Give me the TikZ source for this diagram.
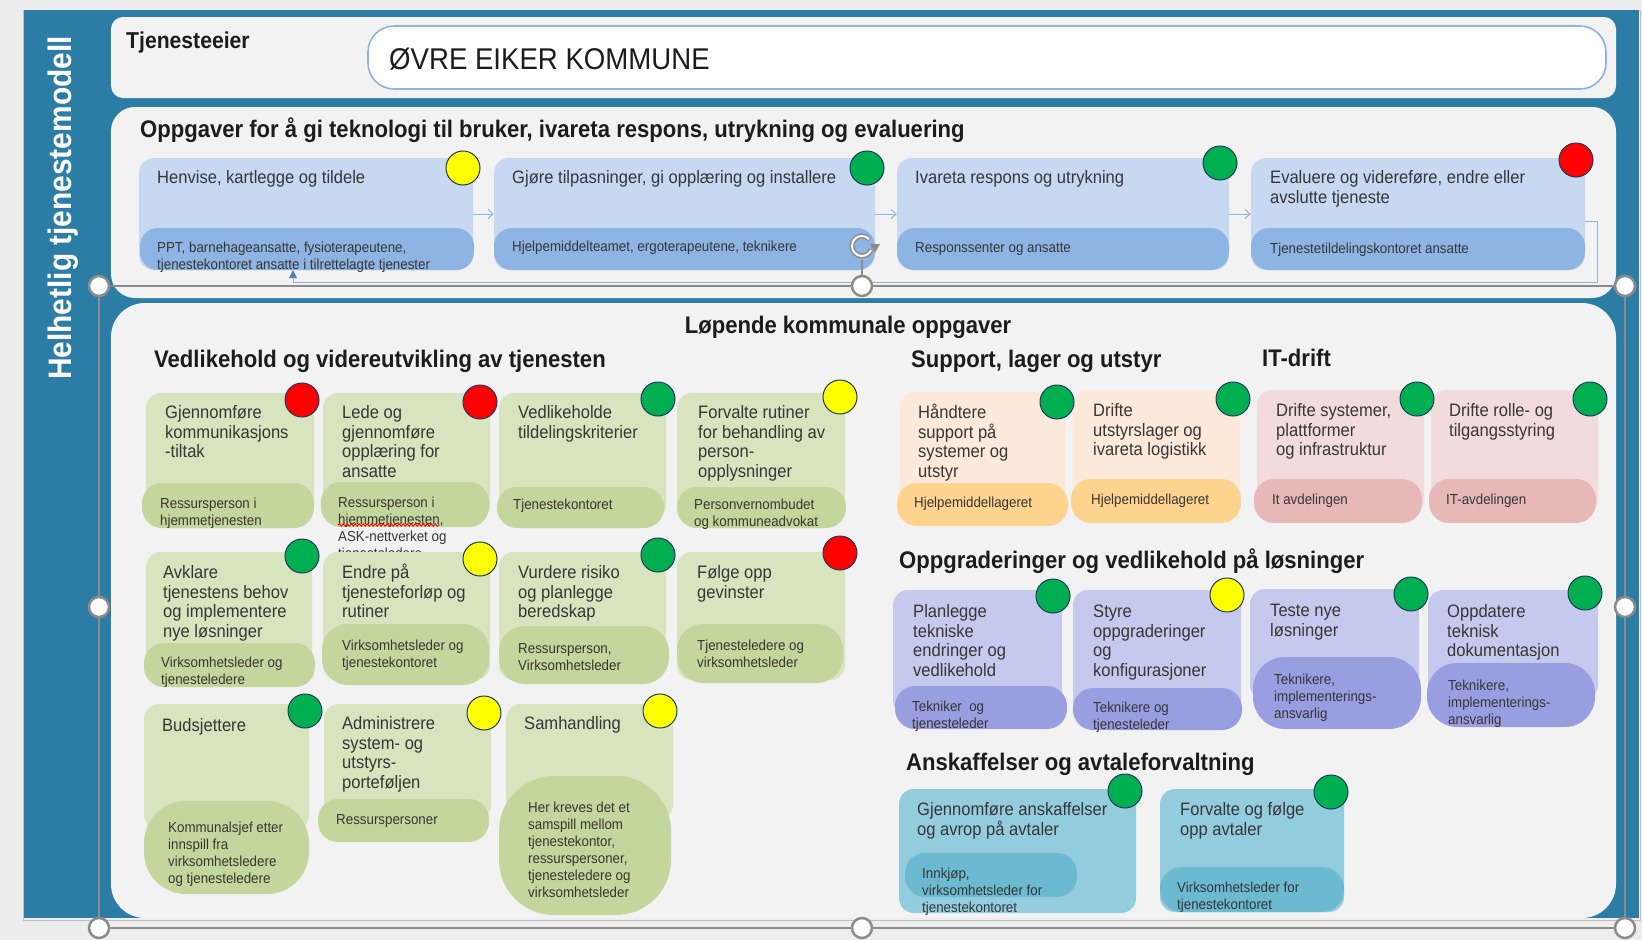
\documentclass[tikz,border=0pt]{standalone}
\usepackage{fontspec}
\setmainfont{Liberation Sans}[FakeStretch=0.92]
\usetikzlibrary{arrows.meta,decorations.pathmorphing,calc}
\definecolor{bg}{HTML}{EDEDED}
\definecolor{frame}{HTML}{2C7DA6}
\definecolor{panel}{HTML}{F2F2F2}
\definecolor{lb}{HTML}{8DB3E2}
\definecolor{arrowblue}{HTML}{4F81BD}
\definecolor{bll}{HTML}{C6D9F1}
\definecolor{bsu}{HTML}{8DB4E2}
\definecolor{gl}{HTML}{D7E4BD}
\definecolor{gs}{HTML}{C3D69B}
\definecolor{ol}{HTML}{FDE9D9}
\definecolor{os}{HTML}{FDD38E}
\definecolor{pl}{HTML}{F2DCDB}
\definecolor{ps}{HTML}{E6B9B8}
\definecolor{ul}{HTML}{C5C9EE}
\definecolor{us}{HTML}{989EE0}
\definecolor{tl}{HTML}{93CDDD}
\definecolor{ts}{HTML}{6BBACF}
\definecolor{lyel}{HTML}{FFFF00}
\definecolor{lgrn}{HTML}{00B050}
\definecolor{lred}{HTML}{FF0000}
\definecolor{lampb}{HTML}{203864}
\definecolor{txt}{HTML}{363636}
\definecolor{htxt}{HTML}{1C1C1C}
\definecolor{hgray}{HTML}{8C8C8C}
\tikzset{
  tbox/.style={rectangle, inner sep=0, draw=none},
  mt/.style={anchor=north west, inner sep=0, align=left, text=txt,
    font=\fontsize{18}{19.5}\selectfont, yshift=8.6pt},
  st/.style={anchor=north west, inner sep=0, align=left, text=txt,
    font=\fontsize{14.5}{17}\selectfont, yshift=6.8pt},
  hdst/.style={anchor=base west, inner sep=0, text=htxt,
    font=\bfseries\fontsize{24}{28}\selectfont},
  lampst/.style={circle, minimum size=34pt, inner sep=0, draw=lampb, line width=1pt},
  flow/.style={draw=lb, line width=1pt, -{Straight Barb[length=5pt,width=9pt]}},
  fb/.style={draw=lb, line width=1pt, -{Triangle[length=8pt,width=8pt,color=arrowblue]}},
  hdl/.style={circle, fill=white, draw=hgray, line width=2.5pt, minimum size=20pt, inner sep=0},
  selline/.style={draw=hgray, line width=1.5pt},
}
\newcommand\bx[7]{\node[tbox,fill=#6,rounded corners=#7pt,minimum width={(#4-#2)*1pt},minimum height={(#5-#3)*1pt}] (#1) at ({(#2+#4)/2},{(#3+#5)/2}) {};}
\newcommand\lamp[4]{\node[lampst,fill=#4] (#1) at (#2,#3) {};}
\newcommand\mtx[3]{\node[mt] (#1) at (#2) {\rule{0pt}{15pt}#3};}
\newcommand\stx[3]{\node[st] (#1) at (#2) {\rule{0pt}{12pt}#3};}
\newcommand\hdg[3]{\node[hdst] (#1) at (#2) {#3};}
\begin{document}
\begin{tikzpicture}[x=1pt,y=-1pt]
\useasboundingbox (0,0) rectangle (1642,940);
\fill[bg] (0,0) rectangle (1642,940);
% frame
\draw[draw=black!25, line width=0.8pt] (23,10) rectangle (1640,920);
\fill[frame] (24,10) rectangle (1639,918);
\node[rotate=90, text=white, font=\bfseries\fontsize{32.5}{36}\selectfont, inner sep=0] (vt) at (63,208) {Helhetlig tjenestemodell};
% header
\fill[panel, rounded corners=12pt] (111,17) rectangle (1616,98);
\node[anchor=base west, inner sep=0, text=htxt, font=\bfseries\fontsize{23}{26}\selectfont] (owner) at (126,48) {Tjenesteeier};
\node[tbox, fill=white, draw=lb, line width=1.6pt, rounded corners=26pt, minimum width=1238pt, minimum height=63pt] (ownbox) at (987,57.5) {};
\node[anchor=base west, inner sep=0, text=htxt, font=\fontsize{30}{34}\selectfont] (ownname) at (389,69) {ØVRE EIKER KOMMUNE};
% panels
\fill[panel, rounded corners=24pt] (111,107) rectangle (1616,298);
\fill[panel, rounded corners=34pt] (111,303) rectangle (1616,918);
% ---------- panel 2
\hdg{h1}{140,137}{Oppgaver for å gi teknologi til bruker, ivareta respons, utrykning og evaluering}
\bx{P1}{139}{158}{473}{270}{bll}{15}\bx{P1s}{140}{228}{474}{270}{bsu}{18}
\bx{P2}{494}{158}{875}{270}{bll}{15}\bx{P2s}{494}{228}{875}{270}{bsu}{18}
\bx{P3}{897}{158}{1229}{270}{bll}{15}\bx{P3s}{897}{228}{1229}{270}{bsu}{18}
\bx{P4}{1251}{158}{1585}{270}{bll}{15}\bx{P4s}{1251}{228}{1585}{270}{bsu}{18}
\mtx{P1t}{157,177}{Henvise, kartlegge og tildele}
\mtx{P2t}{512,177}{Gjøre tilpasninger, gi opplæring og installere}
\mtx{P3t}{915,177}{Ivareta respons og utrykning}
\mtx{P4t}{1270,177}{Evaluere og videreføre, endre eller\\avslutte tjeneste}
\stx{P1u}{157,247}{PPT, barnehageansatte, fysioterapeutene,\\tjenestekontoret ansatte i tilrettelagte tjenester}
\stx{P2u}{512,246}{Hjelpemiddelteamet, ergoterapeutene, teknikere}
\stx{P3u}{915,247}{Responssenter og ansatte}
\stx{P4u}{1270,248}{Tjenestetildelingskontoret ansatte}
\lamp{L1}{463}{168}{lyel}\lamp{L2}{867}{168}{lgrn}\lamp{L3}{1220}{163}{lgrn}\lamp{L4}{1576}{160}{lred}
\draw[flow] (P1) -- (P2);
\draw[flow] (P2) -- (P3);
\draw[flow] (P3) -- (P4);
\coordinate (fbc) at (1597,282);
\draw[fb] ([yshift=-7pt]P4.east) -| (fbc) -| ([xshift=-13pt]P1.south);
% ---------- panel 3
\node[anchor=base, inner sep=0, text=htxt, font=\bfseries\fontsize{24}{28}\selectfont] (h2) at (848,333) {Løpende kommunale oppgaver};
\hdg{h3}{154,367}{Vedlikehold og videreutvikling av tjenesten}
\hdg{h4}{911,367}{Support, lager og utstyr}
\hdg{h5}{1262,366}{IT-drift}
\hdg{h6}{899,568}{Oppgraderinger og vedlikehold på løsninger}
\hdg{h7}{906,770}{Anskaffelser og avtaleforvaltning}
% row 1
\bx{V11}{146}{393}{314}{520}{gl}{15}\bx{V11s}{142}{483}{314}{528}{gs}{20}
\bx{V12}{323}{393}{490}{520}{gl}{15}\bx{V12s}{321}{482}{489}{527}{gs}{20}
\bx{V13}{499}{393}{666}{520}{gl}{15}\bx{V13s}{497}{487}{664}{528}{gs}{20}
\bx{V14}{677}{393}{845}{520}{gl}{15}\bx{V14s}{677}{487}{846}{528}{gs}{20}
\mtx{V11t}{165,412}{Gjennomføre\\kommunikasjons\\-tiltak}
\mtx{V12t}{342,412}{Lede og\\gjennomføre\\opplæring for\\ansatte}
\mtx{V13t}{518,412}{Vedlikeholde\\tildelingskriterier}
\mtx{V14t}{698,412}{Forvalte rutiner\\for behandling av\\person-\\opplysninger}
\stx{V11u}{160,503}{Ressursperson i\\hjemmetjenesten}
\stx{V12u}{338,502}{Ressursperson i\\hjemmetjenesten,\\ASK-nettverket og\\tjenesteledere}
\draw[red, line width=0.9pt, decorate, decoration={snake, amplitude=1.2pt, segment length=4pt}] (338,525) -- (440,525);
\stx{V13u}{513,504}{Tjenestekontoret}
\stx{V14u}{694,504}{Personvernombudet\\og kommuneadvokat}
\lamp{LV11}{302}{400}{lred}\lamp{LV12}{480}{402}{lred}\lamp{LV13}{658}{399}{lgrn}\lamp{LV14}{840}{397}{lyel}
% row 2
\bx{V21}{146}{552}{312}{680}{gl}{15}\bx{V21s}{144}{643}{315}{687}{gs}{20}
\bx{V22}{323}{552}{490}{680}{gl}{15}\bx{V22s}{322}{624}{489}{685}{gs}{26}
\bx{V23}{499}{552}{666}{680}{gl}{15}\bx{V23s}{499}{626}{669}{684}{gs}{26}
\bx{V24}{677}{552}{845}{680}{gl}{15}\bx{V24s}{677}{624}{843}{683}{gs}{26}
\mtx{V21t}{163,572}{Avklare\\tjenestens behov\\og implementere\\nye løsninger}
\mtx{V22t}{342,572}{Endre på\\tjenesteforløp og\\rutiner}
\mtx{V23t}{518,572}{Vurdere risiko\\og planlegge\\beredskap}
\mtx{V24t}{697,572}{Følge opp\\gevinster}
\stx{V21u}{161,662}{Virksomhetsleder og\\tjenesteledere}
\stx{V22u}{342,645}{Virksomhetsleder og\\tjenestekontoret}
\stx{V23u}{518,648}{Ressursperson,\\Virksomhetsleder}
\stx{V24u}{697,645}{Tjenesteledere og\\virksomhetsleder}
\lamp{LV21}{302}{556}{lgrn}\lamp{LV22}{480}{559}{lyel}\lamp{LV23}{658}{555}{lgrn}\lamp{LV24}{840}{553}{lred}
% row 3
\bx{V31}{144}{704}{309}{830}{gl}{15}\bx{V31s}{144}{801}{309}{894}{gs}{42}
\bx{V32}{324}{704}{491}{820}{gl}{15}\bx{V32s}{318}{799}{489}{842}{gs}{20}
\bx{V33}{506}{704}{673}{820}{gl}{15}\bx{V33s}{499}{776}{671}{915}{gs}{55}
\mtx{V31t}{162,725}{Budsjettere}
\mtx{V32t}{342,723}{Administrere\\system- og\\utstyrs-\\porteføljen}
\mtx{V33t}{524,723}{Samhandling}
\stx{V31u}{168,827}{Kommunalsjef etter\\innspill fra\\virksomhetsledere\\og tjenesteledere}
\stx{V32u}{336,819}{Ressurspersoner}
\stx{V33u}{528,807}{Her kreves det et\\samspill mellom\\tjenestekontor,\\ressurspersoner,\\tjenesteledere og\\virksomhetsleder}
\lamp{LV31}{305}{711}{lgrn}\lamp{LV32}{484}{713}{lyel}\lamp{LV33}{660}{711}{lyel}
% support / IT
\bx{S1}{900}{392}{1065}{520}{ol}{15}\bx{S1s}{897}{483}{1068}{526}{os}{20}
\bx{S2}{1073}{390}{1240}{515}{ol}{15}\bx{S2s}{1071}{479}{1241}{523}{os}{20}
\bx{I1}{1257}{390}{1424}{515}{pl}{15}\bx{I1s}{1254}{479}{1422}{523}{ps}{20}
\bx{I2}{1431}{390}{1598}{515}{pl}{15}\bx{I2s}{1429}{479}{1596}{523}{ps}{20}
\mtx{S1t}{918,412}{Håndtere\\support på\\systemer og\\utstyr}
\mtx{S2t}{1093,410}{Drifte\\utstyrslager og\\ivareta logistikk}
\mtx{I1t}{1276,410}{Drifte systemer,\\plattformer\\og infrastruktur}
\mtx{I2t}{1449,410}{Drifte rolle- og\\tilgangsstyring}
\stx{S1u}{914,502}{Hjelpemiddellageret}
\stx{S2u}{1091,499}{Hjelpemiddellageret}
\stx{I1u}{1272,499}{It avdelingen}
\stx{I2u}{1446,499}{IT-avdelingen}
\lamp{LS1}{1057}{402}{lgrn}\lamp{LS2}{1233}{399}{lgrn}\lamp{LI1}{1417}{399}{lgrn}\lamp{LI2}{1590}{399}{lgrn}
% upgrades
\bx{O1}{893}{590}{1062}{715}{ul}{15}\bx{O1s}{895}{686}{1067}{729}{us}{20}
\bx{O2}{1073}{590}{1241}{715}{ul}{15}\bx{O2s}{1073}{688}{1242}{730}{us}{20}
\bx{O3}{1250}{589}{1419}{700}{ul}{15}\bx{O3s}{1253}{657}{1421}{729}{us}{32}
\bx{O4}{1428}{590}{1598}{700}{ul}{15}\bx{O4s}{1427}{663}{1595}{727}{us}{30}
\mtx{O1t}{913,611}{Planlegge\\tekniske\\endringer og\\vedlikehold}
\mtx{O2t}{1093,611}{Styre\\oppgraderinger\\og\\konfigurasjoner}
\mtx{O3t}{1270,610}{Teste nye\\løsninger}
\mtx{O4t}{1447,611}{Oppdatere\\teknisk\\dokumentasjon}
\stx{O1u}{912,706}{Tekniker~ og\\tjenesteleder}
\stx{O2u}{1093,707}{Teknikere og\\tjenesteleder}
\stx{O3u}{1274,679}{Teknikere,\\implementerings-\\ansvarlig}
\stx{O4u}{1448,685}{Teknikere,\\implementerings-\\ansvarlig}
\lamp{LO1}{1053}{596}{lgrn}\lamp{LO2}{1227}{595}{lyel}\lamp{LO3}{1411}{594}{lgrn}\lamp{LO4}{1585}{593}{lgrn}
% procurement
\bx{A1}{899}{789}{1136}{913}{tl}{15}\bx{A1s}{905}{853}{1077}{897}{ts}{20}
\bx{A2}{1160}{789}{1344}{912}{tl}{15}\bx{A2s}{1160}{867}{1344}{912}{ts}{22}
\mtx{A1t}{917,809}{Gjennomføre anskaffelser\\og avrop på avtaler}
\mtx{A2t}{1180,809}{Forvalte og følge\\opp avtaler}
\stx{A1u}{922,873}{Innkjøp,\\virksomhetsleder for\\tjenestekontoret}
\stx{A2u}{1177,887}{Virksomhetsleder for\\tjenestekontoret}
\lamp{LA1}{1125}{791}{lgrn}\lamp{LA2}{1331}{792}{lgrn}
% selection handles
\node[hdl] (s1) at (99,286) {};
\node[hdl] (s2) at (862,286) {};
\node[hdl] (s3) at (1625,286) {};
\node[hdl] (s4) at (99,607) {};
\node[hdl] (s5) at (1625,607) {};
\node[hdl] (s6) at (99,928) {};
\node[hdl] (s7) at (862,928) {};
\node[hdl] (s8) at (1625,928) {};
\node[circle, minimum size=28pt, inner sep=0] (rot) at (862,246) {};
\draw[selline] (s1) -- (s2) -- (s3);
\draw[selline] (s6) -- (s7) -- (s8);
\draw[selline] (s1) -- (s4) -- (s6);
\draw[selline] (s3) -- (s5) -- (s8);
\draw[selline] (s2) -- (rot);
\draw[hgray, line width=5pt] (rot.center) ++(20:10) arc[start angle=20, end angle=320, radius=10];
\draw[white, line width=2pt] (rot.center) ++(25:10) arc[start angle=25, end angle=315, radius=10];
\fill[hgray] ($(rot.center)+(8,-2)$) -- ++(10,0) -- ++(-5,9) -- cycle;
\end{tikzpicture}
\end{document}
